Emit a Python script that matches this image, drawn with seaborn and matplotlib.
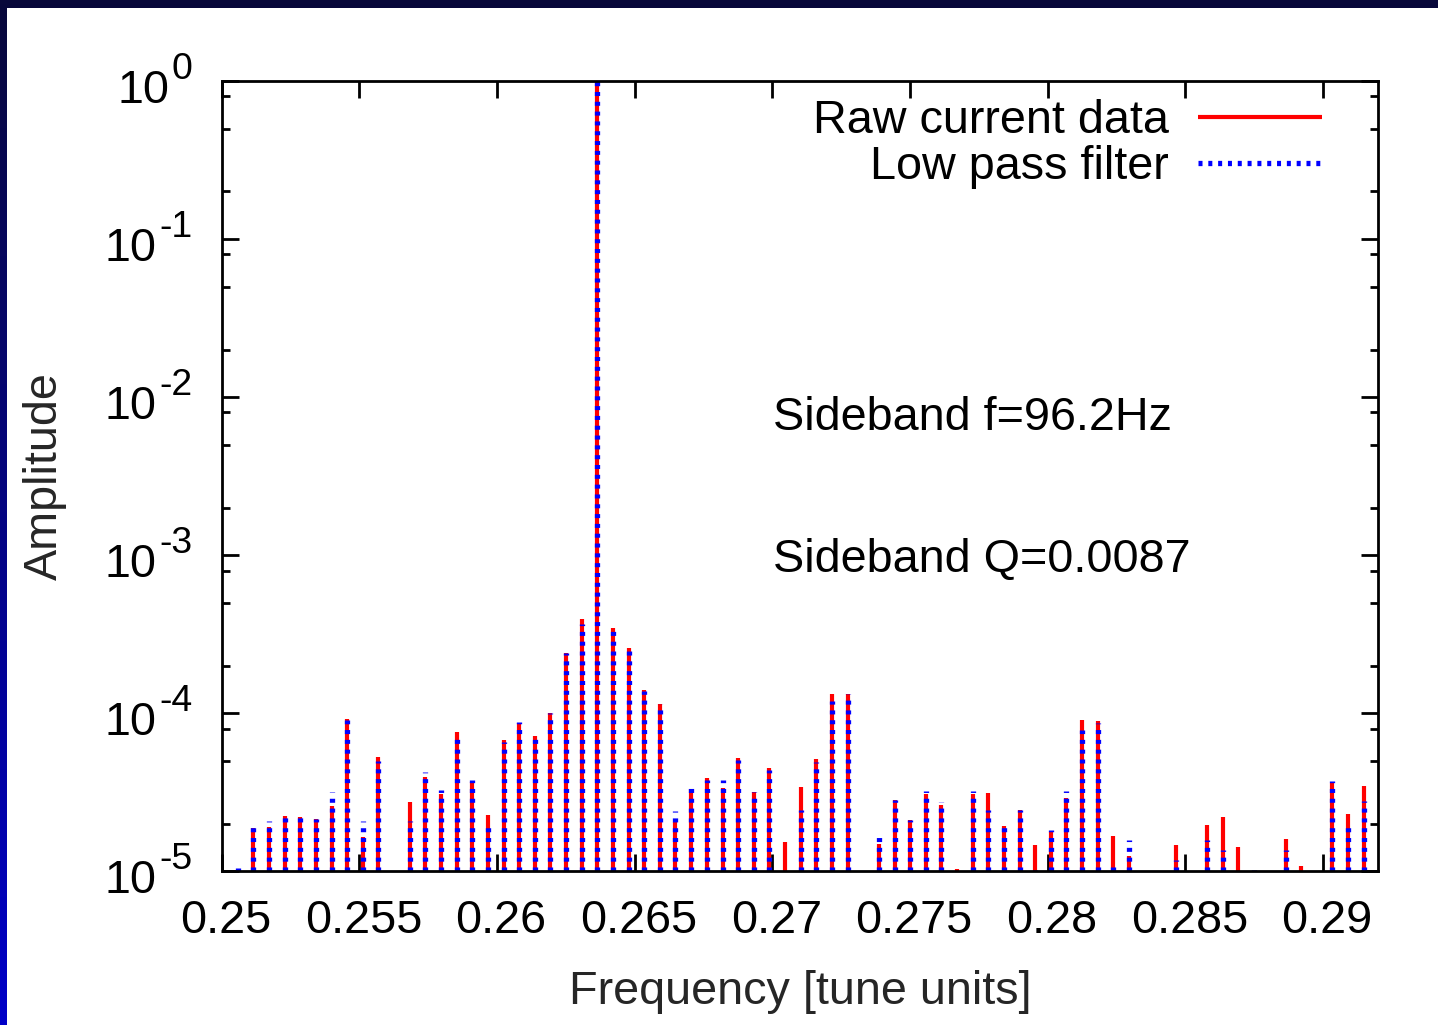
import numpy as np
import matplotlib
matplotlib.use('Agg')
import matplotlib.pyplot as plt
import matplotlib.ticker as mticker
from matplotlib.colors import LinearSegmentedColormap
from matplotlib.patches import Rectangle
from matplotlib.transforms import blended_transform_factory, offset_copy, ScaledTranslation
import seaborn as sns

# Spectrum bins (tune units) and amplitudes.
# Values below 1e-5 sit under the axis floor and are not visible.
freq = [0.25058, 0.25115, 0.25172, 0.25228, 0.25285, 0.25342, 0.25399, 0.25456,
        0.25512, 0.25569, 0.25626, 0.25683, 0.25740, 0.25796, 0.25853, 0.25910,
        0.25967, 0.26024, 0.26080, 0.26137, 0.26194, 0.26251, 0.26308, 0.26364,
        0.26421, 0.26478, 0.26535, 0.26592, 0.26648, 0.26705, 0.26762, 0.26819,
        0.26876, 0.26932, 0.26989, 0.27046, 0.27103, 0.27160, 0.27216, 0.27273,
        0.27330, 0.27387, 0.27444, 0.27500, 0.27557, 0.27614, 0.27671, 0.27728,
        0.27784, 0.27841, 0.27898, 0.27955, 0.28012, 0.28068, 0.28125, 0.28182,
        0.28239, 0.28296, 0.28352, 0.28409, 0.28466, 0.28523, 0.28580, 0.28636,
        0.28693, 0.28750, 0.28807, 0.28864, 0.28920, 0.28977, 0.29034, 0.29091,
        0.29148]

raw_amp = [8e-6, 1.88e-5, 1.90e-5, 2.25e-5, 2.22e-5, 2.16e-5, 2.59e-5, 9.25e-5,
           1.64e-5, 5.32e-5, 8e-6, 2.77e-5, 3.94e-5, 3.07e-5, 7.66e-5, 3.70e-5,
           2.26e-5, 6.75e-5, 8.70e-5, 7.15e-5, 1.01e-4, 2.40e-4, 3.94e-4, 1.0,
           3.49e-4, 2.59e-4, 1.40e-4, 1.15e-4, 2.05e-5, 3.34e-5, 3.90e-5, 3.39e-5,
           5.24e-5, 3.19e-5, 4.53e-5, 1.53e-5, 3.40e-5, 5.12e-5, 1.33e-4, 1.32e-4,
           8e-6, 1.50e-5, 2.84e-5, 2.12e-5, 3.07e-5, 2.62e-5, 1.04e-5, 3.10e-5,
           3.12e-5, 1.95e-5, 2.43e-5, 1.46e-5, 1.77e-5, 2.93e-5, 9.03e-5, 8.90e-5,
           1.67e-5, 1.26e-5, 8e-6, 8e-6, 1.46e-5, 8e-6, 1.98e-5, 2.21e-5,
           1.42e-5, 8e-6, 8e-6, 1.61e-5, 1.09e-5, 8e-6, 3.62e-5, 2.30e-5,
           3.45e-5]

lowpass_amp = [1.05e-5, 2.04e-5, 2.10e-5, 2.20e-5, 2.20e-5, 2.15e-5, 3.16e-5, 9.10e-5,
               2.08e-5, 5.00e-5, 8e-6, 2.08e-5, 4.27e-5, 3.29e-5, 7.00e-5, 3.80e-5,
               1.90e-5, 6.60e-5, 8.86e-5, 6.90e-5, 1.00e-4, 2.42e-4, 3.70e-4, 1.0,
               3.35e-4, 2.52e-4, 1.38e-4, 1.14e-4, 2.41e-5, 3.59e-5, 3.80e-5, 3.80e-5,
               5.10e-5, 3.18e-5, 4.40e-5, 8e-6, 2.45e-5, 4.95e-5, 1.20e-4, 1.33e-4,
               8e-6, 1.76e-5, 2.84e-5, 2.12e-5, 3.21e-5, 2.76e-5, 8e-6, 3.21e-5,
               2.45e-5, 2.06e-5, 2.43e-5, 1.02e-5, 1.82e-5, 3.21e-5, 7.80e-5, 8.69e-5,
               1.15e-5, 1.57e-5, 8e-6, 8e-6, 1.19e-5, 8e-6, 1.57e-5, 1.37e-5,
               8e-6, 1.02e-5, 8e-6, 1.37e-5, 8e-6, 8e-6, 3.73e-5, 2.03e-5,
               2.79e-5]

x_ticks = [0.25, 0.255, 0.26, 0.265, 0.27, 0.275, 0.28, 0.285, 0.29]
y_ticks = [1e-5, 1e-4, 1e-3, 1e-2, 1e-1, 1e0]
y_exponents = ['-5', '-4', '-3', '-2', '-1', '0']
floor = 1e-5

sns.set_theme(style='ticks')
plt.rcParams['font.family'] = ['Liberation Sans', 'DejaVu Sans']
plt.rcParams['axes.edgecolor'] = 'black'
plt.rcParams['text.color'] = 'black'
plt.rcParams['xtick.color'] = 'black'
plt.rcParams['ytick.color'] = 'black'

fs = 33.7

fig = plt.figure(figsize=(14.38, 10.25), dpi=100)

# slide background: navy-to-blue border behind a white panel
bg = fig.add_axes([0, 0, 1, 1], zorder=-2)
slide = LinearSegmentedColormap.from_list('slide', ['#08083a', '#0000c8'])
bg.imshow(np.linspace(0, 1, 256).reshape(-1, 1), cmap=slide, aspect='auto',
          extent=[0, 1, 0, 1])
bg.add_patch(Rectangle((7 / 1438, 0), 1, (1025 - 8) / 1025, color='white', lw=0))
bg.set_xlim(0, 1)
bg.set_ylim(0, 1)
bg.axis('off')

ax = fig.add_axes([0.1542, 0.1498, 0.8041, 0.7712])
ax.set_facecolor('white')

ax.vlines(freq, floor, raw_amp, colors='#ff0000', lw=3.0, label='Raw current data')
ax.vlines(freq, floor, lowpass_amp, colors='#0000ff', lw=3.8,
          linestyles=[(0, (0.76, 1.1))], label='Low pass filter')

ax.set_yscale('log')
ax.set_ylim(1e-5, 1)
ax.set_xlim(0.25, 0.292)

ax.xaxis.set_major_locator(mticker.FixedLocator(x_ticks))
ax.xaxis.set_major_formatter(mticker.FormatStrFormatter('%g'))
ax.xaxis.set_minor_locator(mticker.NullLocator())
ax.yaxis.set_major_locator(mticker.FixedLocator(y_ticks))
ax.yaxis.set_major_formatter(mticker.NullFormatter())
ax.yaxis.set_minor_locator(mticker.LogLocator(base=10, subs=[2, 5, 8]))
ax.yaxis.set_minor_formatter(mticker.NullFormatter())

ax.tick_params(which='both', direction='in', top=True, right=True, width=2,
               color='black', labelsize=fs)
ax.tick_params(which='major', length=12)
ax.tick_params(which='minor', length=6)
ax.tick_params(axis='x', pad=19.5)
for sp in ax.spines.values():
    sp.set_linewidth(2)
    sp.set_color('black')

# gnuplot puts the x tick labels a few pixels right of the tick
shift = ScaledTranslation(4 / 100, 0, fig.dpi_scale_trans)
for lab in ax.get_xticklabels():
    lab.set_transform(lab.get_transform() + shift)

# y tick labels as "10" with a raised exponent (gnuplot style)
ytrans = blended_transform_factory(ax.transAxes, ax.transData)
for yv, ex in zip(y_ticks, y_exponents):
    exp_t = ax.text(-0.0251, yv, ex,
                    transform=offset_copy(ytrans, fig=fig, y=1.7, units='points'),
                    ha='right', va='baseline', fontsize=fs * 0.8)
    ax.annotate('10', xy=(0, 0), xycoords=exp_t, xytext=(-2, -11.7),
                textcoords='offset points', ha='right', va='baseline', fontsize=fs)

ax.set_xlabel('Frequency [tune units]', fontsize=fs)
ax.set_ylabel('Amplitude', fontsize=fs)
ax.xaxis.set_label_coords(0.5, -0.1246)
ax.yaxis.set_label_coords(-0.134, 0.5)

ax.text(0.4766, 0.5585, 'Sideband f=96.2Hz', transform=ax.transAxes,
        fontsize=fs, va='baseline')
ax.text(0.4766, 0.3789, 'Sideband Q=0.0087', transform=ax.transAxes,
        fontsize=fs, va='baseline')

ax.legend(loc='upper right', bbox_to_anchor=(0.9516, 0.977), frameon=False,
          markerfirst=False, handlelength=2.65, handletextpad=0.62,
          labelspacing=0.05, borderpad=0, borderaxespad=0, fontsize=fs)

fig.savefig('out.png', dpi=100)
plt.close(fig)
